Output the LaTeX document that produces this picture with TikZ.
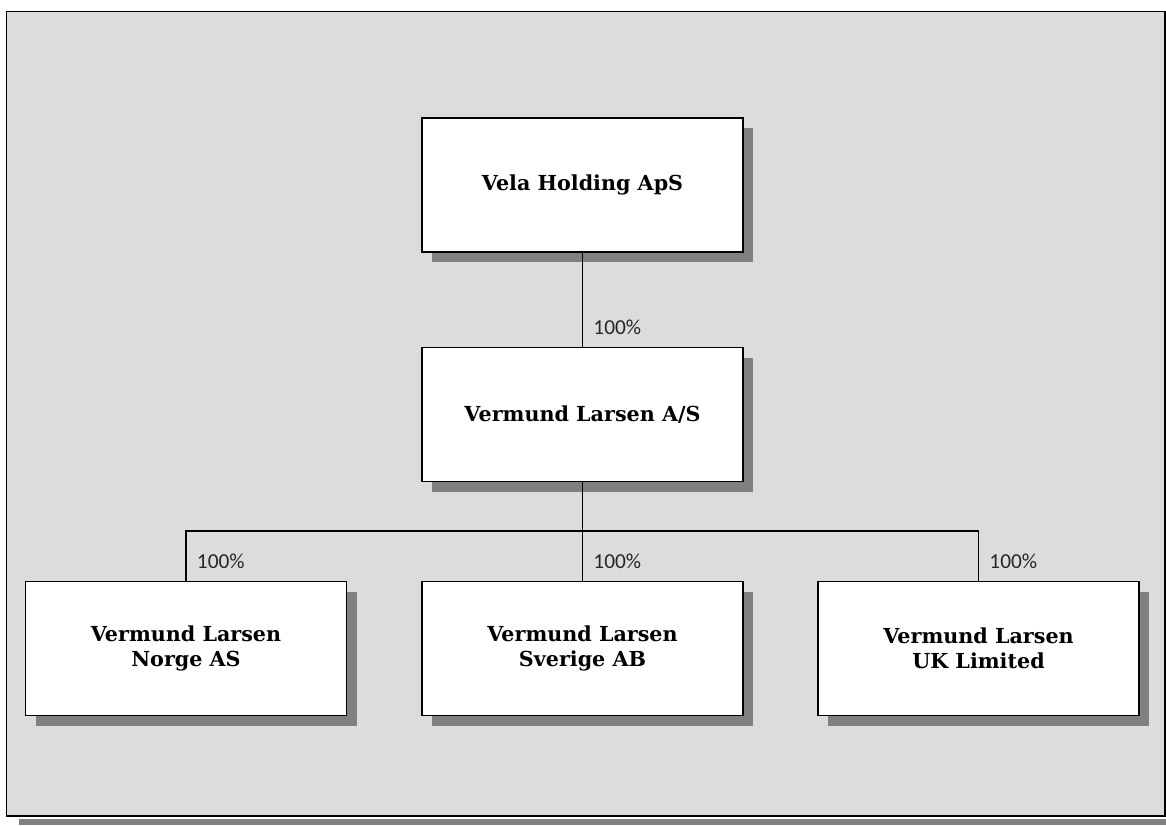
\documentclass[tikz,border=0pt]{standalone}
\usepackage{fontspec}
\setmainfont{DejaVu Serif}
\newfontfamily\sharefont{Carlito}
\usetikzlibrary{shadows}
\definecolor{panelgray}{HTML}{DCDCDC}
\definecolor{shadowgray}{HTML}{808080}
\tikzset{every picture/.style={x=0.75pt,y=-0.75pt},
  company/.style={rectangle, draw=black, fill=white, line width=1pt,
    minimum width=240.75pt, minimum height=100.5pt, align=center,
    font=\fontsize{15.5}{18.75}\selectfont\bfseries,
    drop shadow={shadow xshift=7.5pt, shadow yshift=-7.5pt, fill=shadowgray, opacity=1}},
  share/.style={anchor=base west, inner sep=0pt, text=black!85, font=\sharefont\fontsize{16}{18}\selectfont},
  link/.style={draw=black, line width=0.8pt}}

\begin{document}
\begin{tikzpicture}
        \useasboundingbox (0,0) rectangle (1166,825);
        \fill[shadowgray] (19,819) rectangle (1166,825);
        \draw[fill=panelgray, line width=1pt] (6.5,11.5) rectangle (1165,816);

        \node[company] (vela) at (582.5,185) {Vela Holding\ ApS};
        \node[company] (larsen) at (582.5,414.5) {Vermund Larsen A/S};
        \node[company] (norge) at (186,648.5) {Vermund Larsen\\Norge AS};
        \node[company] (sverige) at (582.5,648.5) {Vermund Larsen\\Sverige AB};
        \node[company] (uk) at (978.5,648.5) {Vermund Larsen\\UK Limited};

        \coordinate (bus) at (582.5,531);

        \draw[link] (vela) -- (larsen);
        \node[share] (s0) at ([xshift=8pt,yshift=9pt]larsen.north) {100\%};
        \draw[link] (larsen) -- (bus);
        \foreach \to/\lbl in {norge/s1, sverige/s2, uk/s3} {
          \draw[link] (bus) -| (\to.north);
          \node[share] (\lbl) at ([xshift=8pt,yshift=9pt]\to.north) {100\%};
        }
      \end{tikzpicture}
\end{document}
